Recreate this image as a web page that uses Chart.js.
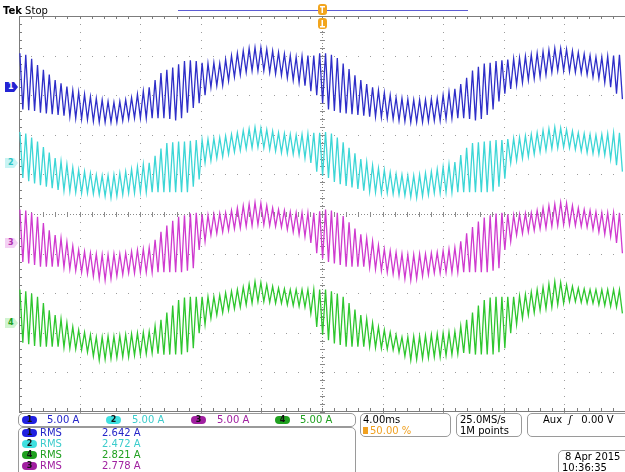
<!DOCTYPE html>
<html>
<head>
<meta charset="utf-8">
<script src="https://cdn.jsdelivr.net/npm/chart.js@4.4.0/dist/chart.umd.min.js"></script>
<style>
  body { margin: 0; background: #fff; }
  #wrap { position: relative; width: 625px; height: 472px; overflow: hidden; font-family: "DejaVu Sans", sans-serif; font-size: 10px; }
  #scope { position: absolute; left: 0; top: 0; }
  .t { position: absolute; white-space: nowrap; line-height: 11px; }
  .box { position: absolute; border: 1px solid #9a9a9a; border-radius: 5px; box-sizing: border-box; }
  .oval { position: absolute; width: 15px; height: 8px; border-radius: 5px; color: #111; font-size: 8px; line-height: 8px; text-align: center; font-weight: bold; }
  .mark { position: absolute; left: 5px; width: 13px; height: 10px; font-size: 8px; line-height: 10px; text-indent: 3px; font-weight: bold;
          clip-path: polygon(0 0, 70% 0, 100% 50%, 70% 100%, 0 100%); }
</style>
</head>
<body>
<div id="wrap">
  <canvas id="scope" width="625" height="472"></canvas>

  <div class="t" style="left:3px;top:5px;font-size:10px;"><b>Tek</b> Stop</div>

  <div class="mark" style="top:82px;background:#2424d4;color:#fff;">1</div>
  <div class="mark" style="top:158px;background:#c8f4f4;color:#2cc4c4;">2</div>
  <div class="mark" style="top:238px;background:#f4d0f4;color:#b030b0;">3</div>
  <div class="mark" style="top:318px;background:#d0f4d0;color:#20a020;">4</div>

  <!-- vertical scale row -->
  <div class="box" style="left:18px;top:413px;width:338px;height:14px;"></div>
  <div class="oval" style="left:22px;top:416px;background:#2020e0;">1</div>
  <div class="t" style="left:47px;top:414px;color:#2424c8;">5.00 A</div>
  <div class="oval" style="left:106px;top:416px;background:#40e0e0;">2</div>
  <div class="t" style="left:132px;top:414px;color:#3ccccc;">5.00 A</div>
  <div class="oval" style="left:191px;top:416px;background:#a020a0;">3</div>
  <div class="t" style="left:217px;top:414px;color:#a020a0;">5.00 A</div>
  <div class="oval" style="left:275px;top:416px;background:#20a020;">4</div>
  <div class="t" style="left:300px;top:414px;color:#20a020;">5.00 A</div>

  <!-- measurements -->
  <div class="box" style="left:18px;top:427px;width:338px;height:52px;"></div>
  <div class="oval" style="left:22px;top:429px;background:#2020e0;">1</div>
  <div class="t" style="left:40px;top:427px;color:#2424c8;">RMS</div>
  <div class="t" style="left:102px;top:427px;color:#2424c8;">2.642 A</div>
  <div class="oval" style="left:22px;top:440px;background:#40e0e0;">2</div>
  <div class="t" style="left:40px;top:438px;color:#3ccccc;">RMS</div>
  <div class="t" style="left:102px;top:438px;color:#3ccccc;">2.472 A</div>
  <div class="oval" style="left:22px;top:451px;background:#20a020;">4</div>
  <div class="t" style="left:40px;top:449px;color:#20a020;">RMS</div>
  <div class="t" style="left:102px;top:449px;color:#20a020;">2.821 A</div>
  <div class="oval" style="left:22px;top:462px;background:#a020a0;">3</div>
  <div class="t" style="left:40px;top:460px;color:#a020a0;">RMS</div>
  <div class="t" style="left:102px;top:460px;color:#a020a0;">2.778 A</div>

  <!-- horizontal / acquisition / trigger -->
  <div class="box" style="left:360px;top:413px;width:91px;height:24px;"></div>
  <div class="t" style="left:363px;top:414px;">4.00ms</div>
  <div class="t" style="left:363px;top:425px;color:#f0a020;"><span style="display:inline-block;width:5px;height:7px;background:#f0a020;margin-right:2px;"></span>50.00 %</div>
  <div class="box" style="left:456px;top:413px;width:66px;height:24px;"></div>
  <div class="t" style="left:460px;top:414px;">25.0MS/s</div>
  <div class="t" style="left:460px;top:425px;">1M points</div>
  <div class="box" style="left:527px;top:413px;width:104px;height:24px;"></div>
  <div class="t" style="left:543px;top:414px;">Aux &nbsp;<i>ʃ</i>&nbsp;&nbsp; 0.00 V</div>
  <div class="box" style="left:558px;top:450px;width:72px;height:26px;"></div>
  <div class="t" style="left:565px;top:451px;">8 Apr 2015</div>
  <div class="t" style="left:562px;top:462px;">10:36:35</div>
</div>

<script>
// scope settings
const ampsPerDiv = 5;          // 5.00 A/div on all four channels
const timeStart = -20;         // ms, 4.00 ms/div, trigger at centre
const timeEnd = 20;
const ripplePeriod = 0.388;    // ms per switching ripple cycle

const channelNames = ["1", "2", "3", "4"];
const channelColors = ["#2e2ec8", "#3cd6d6", "#cf3acf", "#2ec62e"];
const channelOffsets = [3.2, 1.29, -0.73, -2.75]; // ground markers, in divisions

// ripple peaks / troughs per cycle, in A
const ch1Hi = [4.3, 4.1, 3.6, 2.8, 2.2, 1.6, 0.9, 0.5, 0.1, -0.4, -0.6, -0.9, -1.2, -1.4, -1.6, -1.8, -1.9, -1.8,
  -1.6, -1.3, -0.9, -0.5, 0.0, 0.9, 1.8, 2.2, 2.5, 2.9, 3.3, 3.4, 3.3, 3.1, 3.0, 3.1, 3.0, 3.5,
  4.0, 4.3, 4.6, 4.9, 5.0, 5.0, 4.8, 4.6, 4.4, 4.2, 4.0, 3.8, 3.9, 4.0, 4.0, 4.3, 4.3, 4.1,
  3.7, 3.0, 2.3, 1.5, 0.9, 0.4, 0.0, -0.4, -0.7, -1.0, -1.3, -1.4, -1.5, -1.6, -1.6, -1.6, -1.5, -1.4,
  -1.0, -0.6, -0.2, 0.4, 1.2, 2.1, 2.6, 3.0, 3.1, 3.3, 3.4, 3.5, 3.6, 3.7, 3.9, 4.1, 4.3, 4.5,
  4.7, 4.9, 4.9, 4.8, 4.6, 4.4, 4.2, 4.0, 3.8, 3.8, 3.9, 4.0, 4.1];
const ch1Lo = [-2.8, -2.9, -3.0, -3.2, -3.3, -3.4, -3.5, -3.6, -3.7, -3.9, -4.0, -4.1, -4.3, -4.4, -4.4, -4.4, -4.4, -4.2,
  -4.0, -3.9, -3.9, -3.9, -3.9, -3.9, -3.9, -4.0, -4.2, -3.9, -3.2, -2.6, -2.0, -1.0, 0.0, 0.2, 0.25, 0.8,
  1.3, 1.6, 1.9, 2.1, 2.1, 2.1, 1.9, 1.7, 1.5, 1.2, 0.9, 0.6, 0.2, -0.5, -1.0, -2.0, -2.8, -3.0,
  -3.2, -3.3, -3.4, -3.5, -3.6, -3.7, -3.7, -3.8, -3.9, -4.0, -4.2, -4.3, -4.4, -4.4, -4.4, -4.3, -4.2, -4.2,
  -4.0, -3.9, -3.9, -3.9, -4.0, -4.2, -4.0, -3.5, -2.8, -1.8, -0.8, -0.2, 0.3, 0.6, 0.9, 1.1, 1.3, 1.6,
  1.9, 2.1, 2.1, 2.0, 1.9, 1.8, 1.6, 1.3, 1.1, 0.6, 0.0, -0.8, -1.5];

const ch2Hi = [3.9, 3.7, 3.2, 2.7, 2.0, 1.3, 0.6, 0.2, -0.2, -0.6, -0.9, -1.1, -1.3, -1.5, -1.6, -1.6, -1.5, -1.3,
  -1.1, -0.8, -0.5, -0.2, 0.0, 0.9, 1.8, 2.5, 2.6, 2.7, 2.7, 2.8, 2.9, 2.9, 3.0, 3.1, 3.2, 3.4,
  3.6, 3.8, 4.1, 4.3, 4.5, 4.4, 4.2, 4.0, 3.8, 3.7, 3.6, 3.5, 3.6, 3.7, 3.8, 3.8, 3.9, 3.7,
  3.2, 2.6, 1.9, 1.2, 0.5, 0.1, -0.3, -0.7, -0.9, -1.2, -1.4, -1.5, -1.6, -1.6, -1.5, -1.3, -1.1, -0.8,
  -0.5, -0.2, 0.1, 1.0, 1.9, 2.5, 2.6, 2.7, 2.8, 2.9, 2.9, 3.0, 3.1, 3.2, 3.4, 3.6, 3.8, 4.1,
  4.3, 4.5, 4.4, 4.2, 4.0, 3.8, 3.7, 3.6, 3.5, 3.6, 3.7, 3.8, 3.8];
const ch2Lo = [-1.9, -2.3, -2.6, -2.8, -3.0, -3.2, -3.4, -3.5, -3.6, -3.7, -3.8, -3.8, -3.9, -4.0, -4.2, -4.4, -4.2, -4.0,
  -3.8, -3.8, -3.7, -3.7, -3.7, -3.7, -3.7, -3.7, -3.7, -3.7, -3.7, -3.0, -2.1, 0.0, 0.3, 0.6, 0.8, 1.1,
  1.4, 1.6, 1.8, 1.9, 2.0, 1.9, 1.7, 1.5, 1.3, 1.2, 1.1, 1.0, 0.6, 0.0, -1.1, -1.6, -1.9, -2.4,
  -2.7, -2.9, -3.1, -3.3, -3.5, -3.6, -3.7, -3.8, -3.8, -3.9, -4.0, -4.1, -4.3, -4.4, -4.2, -4.0, -3.8, -3.8,
  -3.7, -3.7, -3.7, -3.7, -3.7, -3.7, -3.7, -3.7, -3.6, -3.0, -2.0, 0.0, 0.3, 0.6, 0.8, 1.1, 1.4, 1.6,
  1.8, 1.9, 2.0, 1.9, 1.7, 1.5, 1.3, 1.2, 1.1, 1.0, 0.5, -0.3, -1.1];

const ch3Hi = [4.2, 4.1, 3.8, 3.3, 2.5, 1.6, 1.0, 0.6, 0.1, -0.4, -0.9, -1.1, -1.3, -1.4, -1.5, -1.5, -1.4, -1.4,
  -1.3, -1.1, -0.9, -0.8, -0.6, 0.4, 1.4, 2.2, 2.8, 3.3, 3.5, 3.7, 3.8, 3.6, 3.5, 3.6, 3.7, 3.8,
  4.1, 4.4, 4.7, 4.9, 5.1, 5.0, 4.7, 4.4, 4.2, 4.1, 3.9, 3.8, 3.8, 3.8, 3.8, 4.0, 4.2, 4.1,
  3.8, 3.4, 2.6, 1.8, 1.1, 0.6, 0.2, -0.3, -0.8, -1.0, -1.2, -1.4, -1.5, -1.5, -1.4, -1.4, -1.3, -1.2,
  -1.0, -0.8, -0.6, 0.2, 1.2, 2.0, 2.7, 3.2, 3.5, 3.7, 3.8, 3.6, 3.5, 3.6, 3.7, 3.8, 4.1, 4.4,
  4.7, 4.9, 5.1, 5.0, 4.7, 4.4, 4.2, 4.1, 3.9, 3.8, 3.8, 3.8, 3.8];
const ch3Lo = [-2.4, -2.6, -2.8, -3.0, -3.0, -3.0, -3.0, -3.1, -3.3, -3.5, -3.7, -3.9, -4.2, -4.5, -4.7, -4.5, -4.2, -4.0,
  -3.8, -3.8, -3.7, -3.7, -3.7, -3.7, -3.7, -3.7, -3.7, -3.7, -3.5, -3.2, -0.9, 0.2, 1.0, 1.2, 1.4, 1.6,
  1.8, 1.9, 2.1, 2.2, 2.3, 2.3, 2.2, 2.1, 2.0, 1.7, 1.4, 1.1, 0.8, 0.0, -1.3, -2.0, -2.4, -2.6,
  -2.8, -3.0, -3.0, -3.0, -3.0, -3.1, -3.3, -3.5, -3.7, -3.9, -4.2, -4.5, -4.7, -4.5, -4.2, -4.0, -3.8, -3.8,
  -3.7, -3.7, -3.7, -3.7, -3.7, -3.7, -3.7, -3.7, -3.5, -3.2, -0.9, 0.2, 1.0, 1.2, 1.4, 1.6, 1.8, 1.9,
  2.1, 2.2, 2.3, 2.3, 2.2, 2.1, 2.0, 1.7, 1.4, 1.1, 0.8, 0.0, -1.3];

const ch4Hi = [4.2, 4.0, 3.7, 3.3, 2.5, 1.6, 1.0, 0.5, 0.0, -0.5, -0.9, -1.2, -1.5, -1.8, -1.8, -1.7, -1.7, -1.6,
  -1.5, -1.4, -1.3, -1.2, -1.1, -0.4, 0.4, 1.3, 2.2, 2.9, 3.2, 3.3, 3.3, 3.3, 3.3, 3.3, 3.5, 3.8,
  4.0, 4.2, 4.5, 4.9, 5.2, 5.1, 4.8, 4.6, 4.4, 4.3, 4.2, 4.2, 4.2, 4.2, 4.2, 4.2, 4.2, 4.0,
  3.7, 3.3, 2.5, 1.7, 1.0, 0.5, 0.0, -0.5, -0.9, -1.2, -1.5, -1.8, -1.8, -1.7, -1.7, -1.6, -1.5, -1.4,
  -1.3, -1.2, -1.1, -0.4, 0.4, 1.3, 2.2, 2.9, 3.2, 3.3, 3.3, 3.3, 3.3, 3.4, 3.6, 3.9, 4.2, 4.5,
  4.9, 5.2, 5.1, 4.8, 4.6, 4.4, 4.3, 4.2, 4.2, 4.2, 4.2, 4.2, 4.2];
const ch4Lo = [-2.5, -2.7, -2.9, -3.0, -3.0, -3.0, -3.0, -3.1, -3.2, -3.3, -3.4, -3.7, -4.2, -4.7, -4.6, -4.5, -4.4, -4.3,
  -4.3, -4.1, -4.0, -3.9, -3.8, -3.9, -4.0, -4.0, -4.0, -4.0, -3.7, -3.2, -1.3, -0.2, 0.6, 1.0, 1.3, 1.6,
  1.8, 2.0, 2.3, 2.5, 2.7, 2.7, 2.6, 2.5, 2.5, 2.3, 2.2, 2.1, 2.0, 1.2, -0.5, -1.5, -2.2, -2.6,
  -2.8, -3.0, -3.0, -3.0, -3.0, -3.0, -3.1, -3.2, -3.3, -3.4, -3.7, -4.2, -4.7, -4.6, -4.5, -4.4, -4.3, -4.3,
  -4.1, -4.0, -3.9, -3.8, -3.9, -4.0, -4.0, -4.0, -4.0, -3.7, -3.2, -1.3, -0.2, 0.6, 1.0, 1.3, 1.6, 1.8,
  2.0, 2.3, 2.5, 2.7, 2.7, 2.6, 2.5, 2.5, 2.3, 2.2, 2.1, 2.0, 1.2];

const highs = [ch1Hi, ch2Hi, ch3Hi, ch4Hi];
const lows = [ch1Lo, ch2Lo, ch3Lo, ch4Lo];

// interleave peak and trough of each ripple cycle, shifted to the channel's ground marker
function tracePoints(hi, lo, offset) {
  const pts = [];
  for (let i = 0; i < hi.length; i++) {
    pts.push({ x: timeStart + (i + 0.15) * ripplePeriod, y: offset + hi[i] / ampsPerDiv });
    pts.push({ x: timeStart + (i + 0.65) * ripplePeriod, y: offset + lo[i] / ampsPerDiv });
  }
  return pts;
}

// graticule: dotted divisions, ticked centre lines and frame
const graticule = {
  id: "graticule",
  beforeDatasetsDraw(chart) {
    const { ctx, chartArea: a, scales } = chart;
    const sx = scales.x, sy = scales.y;
    ctx.save();
    ctx.fillStyle = "#9c9c9c";
    for (let d = -4; d <= 4; d++) {
      if (d === 0) continue;
      const px = Math.round(sx.getPixelForValue(d * 4));
      for (let v = -5; v <= 5.001; v += 0.2) ctx.fillRect(px, Math.round(sy.getPixelForValue(v)), 1, 1);
      const py = Math.round(sy.getPixelForValue(d));
      for (let t = -20; t <= 20.001; t += 0.8) ctx.fillRect(Math.round(sx.getPixelForValue(t)), py, 1, 1);
    }
    // centre lines
    ctx.fillStyle = "#8a8a8a";
    const cx = Math.round(sx.getPixelForValue(0));
    const cy = Math.round(sy.getPixelForValue(0));
    for (let p = a.top; p < a.bottom; p += 3) ctx.fillRect(cx, p, 1, 1);
    for (let p = a.left; p < a.right; p += 3) ctx.fillRect(p, cy, 1, 1);
    for (let v = -5; v <= 5.001; v += 0.2) ctx.fillRect(cx - 2, Math.round(sy.getPixelForValue(v)), 5, 1);
    for (let t = -20; t <= 20.001; t += 0.8) ctx.fillRect(Math.round(sx.getPixelForValue(t)), cy - 2, 1, 5);
    // frame with inward ticks
    ctx.fillStyle = "#7c7c7c";
    ctx.fillRect(a.left, a.top, a.right - a.left, 1);
    ctx.fillRect(a.left, a.bottom - 1, a.right - a.left, 1);
    ctx.fillRect(a.left, a.top, 1, a.bottom - a.top);
    for (let t = -20; t <= 20.001; t += 0.8) {
      const px = Math.round(sx.getPixelForValue(t));
      ctx.fillRect(px, a.top, 1, 3);
      ctx.fillRect(px, a.bottom - 4, 1, 3);
    }
    for (let v = -5; v <= 5.001; v += 0.2) ctx.fillRect(a.left, Math.round(sy.getPixelForValue(v)), 3, 1);
    ctx.restore();
  },
  afterDraw(chart) {
    const { ctx, scales } = chart;
    const cx = Math.round(scales.x.getPixelForValue(0));
    ctx.save();
    // record view bar
    ctx.strokeStyle = "#5c5cd4";
    ctx.lineWidth = 1.2;
    ctx.beginPath();
    ctx.moveTo(178, 10.5);
    ctx.lineTo(468, 10.5);
    ctx.stroke();
    // trigger position markers
    ctx.fillStyle = "#f2a51e";
    ctx.beginPath();
    ctx.roundRect(cx - 4, 4, 9, 11, 3);
    ctx.roundRect(cx - 4, 18, 9, 11, 3);
    ctx.fill();
    ctx.fillStyle = "#fff";
    ctx.fillRect(cx - 2, 6, 5, 1.5);
    ctx.fillRect(cx - 0.5, 6, 1.5, 7);
    ctx.fillRect(cx - 2, 26, 5, 1.5);
    ctx.fillRect(cx - 0.5, 20, 1.5, 7);
    ctx.restore();
  }
};

new Chart(document.getElementById("scope"), {
  type: "line",
  data: {
    datasets: channelNames.map((name, k) => ({
      label: "CH" + name,
      data: tracePoints(highs[k], lows[k], channelOffsets[k]),
      borderColor: channelColors[k],
      borderWidth: 1.3,
      pointRadius: 0,
      tension: 0,
      fill: false
    }))
  },
  options: {
    responsive: false,
    animation: false,
    events: [],
    layout: { padding: { left: 19, top: 16, right: 0, bottom: 60 } },
    scales: {
      x: { type: "linear", min: timeStart, max: timeEnd, display: false },
      y: { type: "linear", min: -5, max: 5, display: false }
    },
    plugins: { legend: { display: false }, tooltip: { enabled: false } }
  },
  plugins: [graticule]
});
</script>
</body>
</html>
